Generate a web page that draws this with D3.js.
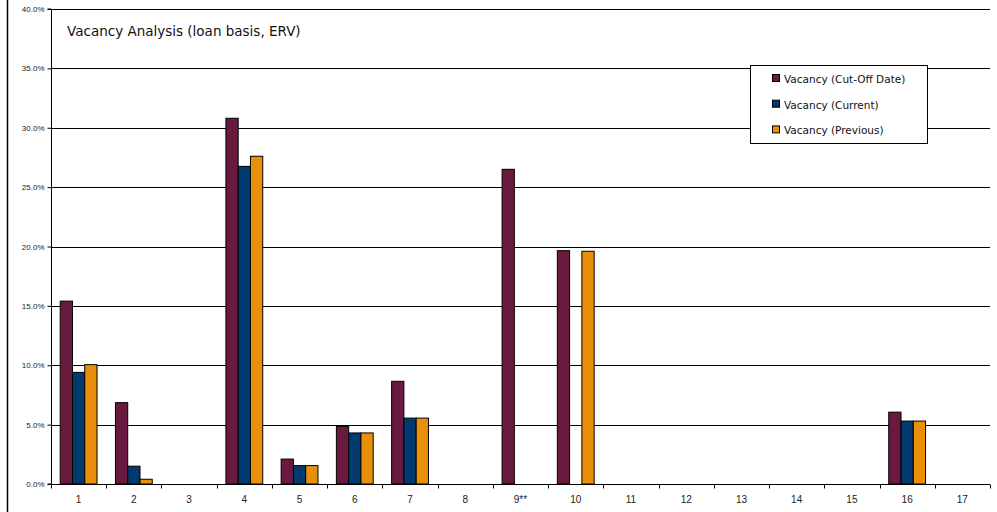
<!DOCTYPE html>
<html><head><meta charset="utf-8">
<script src="https://cdn.jsdelivr.net/npm/d3@7"></script>
<style>body{margin:0;background:#fff}svg{display:block}</style>
</head><body>
<script>
const categories = ["1","2","3","4","5","6","7","8","9**","10","11","12","13","14","15","16","17"];
const cutOff   = [15.4, 6.85, 0, 30.8, 2.1, 4.85, 8.65, 0, 26.5, 19.65, 0, 0, 0, 0, 0, 6.05, 0];
const current  = [9.4, 1.5, 0, 26.75, 1.55, 4.3, 5.55, 0, 0, 0, 0, 0, 0, 0, 0, 5.3, 0];
const previous = [10.05, 0.4, 0, 27.6, 1.55, 4.3, 5.55, 0, 0, 19.6, 0, 0, 0, 0, 0, 5.3, 0];
const seriesNames = ["Vacancy (Cut-Off Date)", "Vacancy (Current)", "Vacancy (Previous)"];
const colors = ["#6B1A3F", "#003A6E", "#E8900A"];
const yTicks = [0, 5, 10, 15, 20, 25, 30, 35, 40];
const title = "Vacancy Analysis (loan basis, ERV)";

(function(){
const W = 997, H = 512;
const svg = d3.select("body").append("svg").attr("width", W).attr("height", H);
const pL = 51, pR = 990, pT = 9, pB = 484;

// chart area border
svg.append("line").attr("x1", 7.5).attr("x2", 7.5).attr("y1", 0).attr("y2", H)
  .attr("stroke", "#000").attr("stroke-width", 1.5);

const x = d3.scaleBand().domain(categories).range([pL, pR]).paddingInner(0).paddingOuter(0);
const y = d3.scaleLinear().domain([0, 40]).range([pB, pT]);
const series = [cutOff, current, previous];
const barW = x.bandwidth() / 4.5;

// gridlines
svg.append("g").selectAll("line").data(yTicks.filter(d => d > 0)).join("line")
  .attr("x1", pL).attr("x2", pR)
  .attr("y1", d => Math.round(y(d)) + 0.5).attr("y2", d => Math.round(y(d)) + 0.5)
  .attr("stroke", "#000").attr("stroke-width", 1);

// bars
series.forEach((vals, si) => {
  svg.append("g").selectAll("rect").data(vals.map((v, i) => ({v, c: categories[i]})).filter(d => d.v > 0))
    .join("rect")
    .attr("x", d => x(d.c) + barW * 0.75 + si * barW)
    .attr("y", d => y(d.v))
    .attr("width", barW)
    .attr("height", d => y(0) - y(d.v))
    .attr("fill", colors[si])
    .attr("stroke", "#000").attr("stroke-width", 1);
});

// y axis
const yAxis = d3.axisLeft(y).tickValues(yTicks).tickSize(4).tickFormat(d => d.toFixed(1) + "%");
const gy = svg.append("g").attr("transform", `translate(${pL + 0.5},0)`).call(yAxis);
gy.select(".domain").attr("stroke", "#000").attr("d", `M-4,${pT}H0V${pB}H-4`);
gy.selectAll("text").attr("font-family", "Liberation Sans, Arial, sans-serif").attr("font-size", 8).attr("fill", "#222").attr("x", -7);

// x axis
const gx = svg.append("g").attr("transform", `translate(0,${pB + 0.5})`);
gx.append("line").attr("x1", pL).attr("x2", pR).attr("stroke", "#000");
const bounds = categories.map(c => x(c)).concat([pR]);
gx.selectAll("line.t").data(bounds).join("line").attr("class", "t")
  .attr("x1", d => Math.round(d) + 0.5).attr("x2", d => Math.round(d) + 0.5).attr("y1", 0).attr("y2", 4)
  .attr("stroke", "#000");
gx.selectAll("text").data(categories).join("text")
  .attr("x", d => x(d) + x.bandwidth() / 2).attr("y", 18)
  .attr("text-anchor", "middle").attr("font-family", "Liberation Sans, Arial, sans-serif")
  .attr("font-size", 10).attr("fill", "#222").text(d => d);

// title
svg.append("text").attr("x", 67).attr("y", 36).attr("font-family", "DejaVu Sans, Verdana, sans-serif")
  .attr("font-size", 13.5).attr("fill", "#111").text(title);

// legend
const lg = svg.append("g");
lg.append("rect").attr("x", 750.5).attr("y", 65.5).attr("width", 177).attr("height", 78)
  .attr("fill", "#fff").attr("stroke", "#000").attr("stroke-width", 1);
seriesNames.forEach((n, i) => {
  const cy = 79 + i * 25.7;
  lg.append("rect").attr("x", 772.5).attr("y", cy - 4.5).attr("width", 7).attr("height", 7)
    .attr("fill", colors[i]).attr("stroke", "#000");
  lg.append("text").attr("x", 784).attr("y", cy + 4).attr("font-family", "DejaVu Sans, Verdana, sans-serif")
    .attr("font-size", 10.5).attr("fill", "#111").text(n);
});
})();
</script>
</body></html>
